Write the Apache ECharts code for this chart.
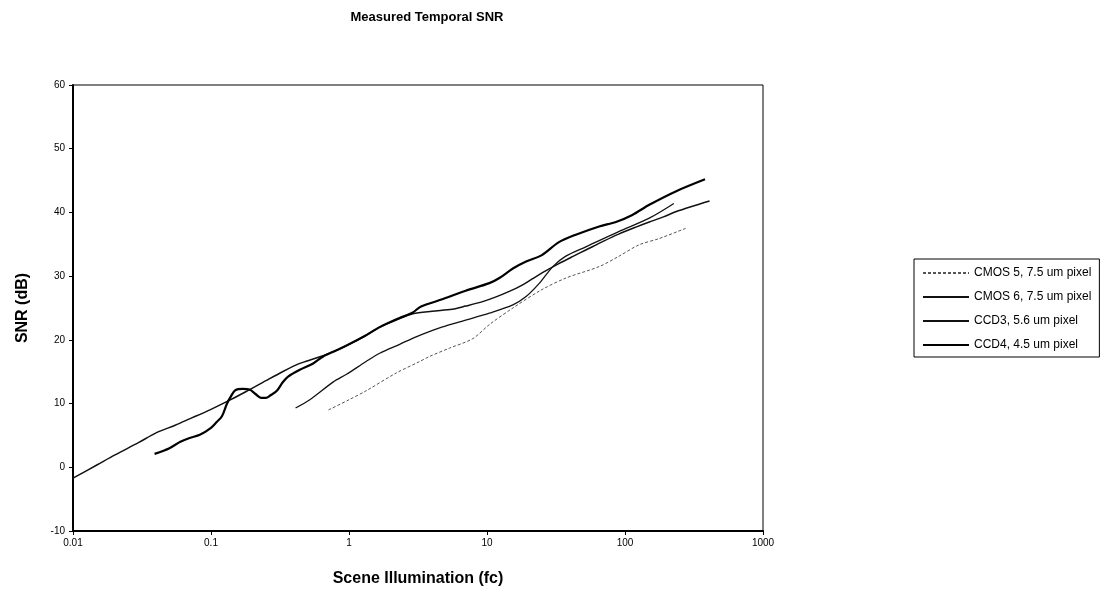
<!DOCTYPE html>
<html>
<head>
<meta charset="utf-8">
<script src="https://cdn.jsdelivr.net/npm/echarts@6/dist/echarts.min.js"></script>
<style>
  html, body { margin: 0; padding: 0; background: #fff; }
  #main { width: 1104px; height: 598px; }
</style>
</head>
<body>
<div id="main"></div>
<script>
// tick labels
var xTickLabels = ['0.01', '0.1', '1', '10', '100', '1000'];

// CMOS 5, 7.5 um pixel
var cmos5X = [0.71, 1.0, 1.33, 2.2, 3.25, 3.84, 5.35, 7.9, 10.4, 15.4, 24.6, 37.3, 65, 90, 126, 177, 275];
var cmos5Y = [9.0, 10.6, 12.0, 14.8, 16.6, 17.4, 18.7, 20.2, 22.4, 25.0, 27.8, 29.7, 31.5, 33.1, 34.9, 35.9, 37.5];

// CMOS 6, 7.5 um pixel
var cmos6X = [0.41, 0.52, 0.77, 0.96, 1.33, 1.67, 2.33, 3.0, 4.7, 7, 10.4, 15.4, 19.2, 24, 30, 37, 52, 90, 150, 226];
var cmos6Y = [9.3, 10.6, 13.4, 14.6, 16.6, 17.9, 19.3, 20.4, 22.0, 23.1, 24.2, 25.5, 26.8, 28.9, 31.5, 33.1, 34.6, 37.0, 39.1, 41.4];

// CCD3, 5.6 um pixel
var ccd3X = [0.01, 0.015, 0.02, 0.03, 0.04, 0.055, 0.07, 0.1, 0.13, 0.18, 0.25, 0.33, 0.44, 0.55, 0.65, 0.8, 1.0, 1.3, 1.67, 2.2, 2.9, 4.0, 5.6, 7.0, 9.3, 11.5, 14.5, 18, 21.4, 27, 33.4, 42, 52, 70, 90, 120, 150, 190, 233, 300, 410];
var ccd3Y = [-1.7, 0.4, 1.9, 3.9, 5.4, 6.6, 7.6, 9.1, 10.3, 11.9, 13.6, 15.0, 16.3, 17.0, 17.5, 18.3, 19.3, 20.6, 22.0, 23.1, 24.1, 24.5, 24.8, 25.3, 26.0, 26.7, 27.6, 28.6, 29.6, 30.9, 32.0, 33.1, 34.1, 35.5, 36.6, 37.7, 38.5, 39.3, 40.1, 40.9, 41.8];

// CCD4, 4.5 um pixel
var ccd4X = [0.039, 0.05, 0.06, 0.07, 0.083, 0.1, 0.11, 0.12, 0.13, 0.14, 0.15, 0.17, 0.19, 0.21, 0.23, 0.25, 0.27, 0.3, 0.33, 0.36, 0.44, 0.55, 0.65, 0.8, 1.0, 1.3, 1.67, 2.3, 2.9, 3.3, 4.8, 7, 10.4, 12.3, 15.4, 19.2, 25, 33, 44, 65, 86, 113, 150, 233, 380];
var ccd4Y = [2.1, 3.0, 4.0, 4.6, 5.1, 6.2, 7.1, 8.0, 9.9, 11.2, 12.1, 12.3, 12.2, 11.5, 10.9, 10.9, 11.3, 12.0, 13.3, 14.2, 15.3, 16.3, 17.4, 18.3, 19.3, 20.6, 22.0, 23.4, 24.3, 25.2, 26.4, 27.7, 28.9, 29.7, 31.2, 32.3, 33.3, 35.3, 36.5, 37.8, 38.5, 39.6, 41.2, 43.3, 45.2];

function pairs(xs, ys) {
  var out = [];
  for (var i = 0; i < xs.length; i++) {
    out.push([xs[i], ys[i]]);
  }
  return out;
}

var font = '"Liberation Sans", Arial, sans-serif';

var myChart = echarts.init(document.getElementById('main'));

var option = {
  animation: false,
  backgroundColor: '#fff',
  title: {
    text: 'Measured Temporal SNR',
    left: 422,
    top: 6,
    textAlign: 'center',
    textStyle: { fontFamily: font, fontSize: 13, fontWeight: 'bold', color: '#000' }
  },
  legend: {
    orient: 'vertical',
    left: 914,
    top: 259,
    padding: [8, 8, 6, 8],
    itemWidth: 46,
    itemHeight: 11,
    itemGap: 12,
    borderColor: '#000',
    borderWidth: 1,
    itemStyle: { opacity: 0 },
    textStyle: { fontFamily: font, fontSize: 12, color: '#000' },
    data: ['CMOS 5, 7.5 um pixel', 'CMOS 6, 7.5 um pixel', 'CCD3, 5.6 um pixel', 'CCD4, 4.5 um pixel']
  },
  grid: {
    left: 73,
    right: 341,
    top: 85,
    bottom: 67,
    show: true,
    borderColor: '#000',
    borderWidth: 1
  },
  xAxis: {
    type: 'log',
    logBase: 10,
    min: 0.01,
    max: 1000,
    name: 'Scene Illumination (fc)',
    nameLocation: 'middle',
    nameGap: 40,
    nameTextStyle: { fontFamily: font, fontSize: 16, fontWeight: 'bold', color: '#000' },
    axisLine: { onZero: false, lineStyle: { color: '#000', width: 2 } },
    axisTick: { show: true, length: 4, lineStyle: { color: '#000' } },
    minorTick: { show: false },
    splitLine: { show: false },
    axisLabel: {
      fontFamily: font, fontSize: 10, color: '#000', margin: 7,
      formatter: function (v, i) { return xTickLabels[i]; }
    }
  },
  yAxis: {
    type: 'value',
    min: -10,
    max: 60,
    interval: 10,
    name: 'SNR (dB)',
    nameLocation: 'middle',
    nameGap: 42,
    nameTextStyle: { fontFamily: font, fontSize: 16, fontWeight: 'bold', color: '#000' },
    axisLine: { show: true, onZero: false, lineStyle: { color: '#000', width: 2 } },
    axisTick: { show: true, length: 4, lineStyle: { color: '#000' } },
    splitLine: { show: false },
    axisLabel: { fontFamily: font, fontSize: 10, color: '#000', margin: 8 }
  },
  series: [
    {
      name: 'CMOS 5, 7.5 um pixel',
      type: 'line',
      data: pairs(cmos5X, cmos5Y),
      symbol: 'none',
      smooth: 0.3,
      color: '#555',
      lineStyle: { color: '#555', width: 1, type: [3, 2] }
    },
    {
      name: 'CMOS 6, 7.5 um pixel',
      type: 'line',
      data: pairs(cmos6X, cmos6Y),
      symbol: 'none',
      smooth: 0.3,
      color: '#111',
      lineStyle: { color: '#111', width: 1.3 }
    },
    {
      name: 'CCD3, 5.6 um pixel',
      type: 'line',
      data: pairs(ccd3X, ccd3Y),
      symbol: 'none',
      smooth: 0.3,
      color: '#111',
      lineStyle: { color: '#111', width: 1.5 }
    },
    {
      name: 'CCD4, 4.5 um pixel',
      type: 'line',
      data: pairs(ccd4X, ccd4Y),
      symbol: 'none',
      smooth: 0.3,
      color: '#000',
      lineStyle: { color: '#000', width: 2.2 }
    }
  ]
};

myChart.setOption(option);
window.addEventListener('resize', function () {
  myChart.resize();
});
</script>
</body>
</html>
